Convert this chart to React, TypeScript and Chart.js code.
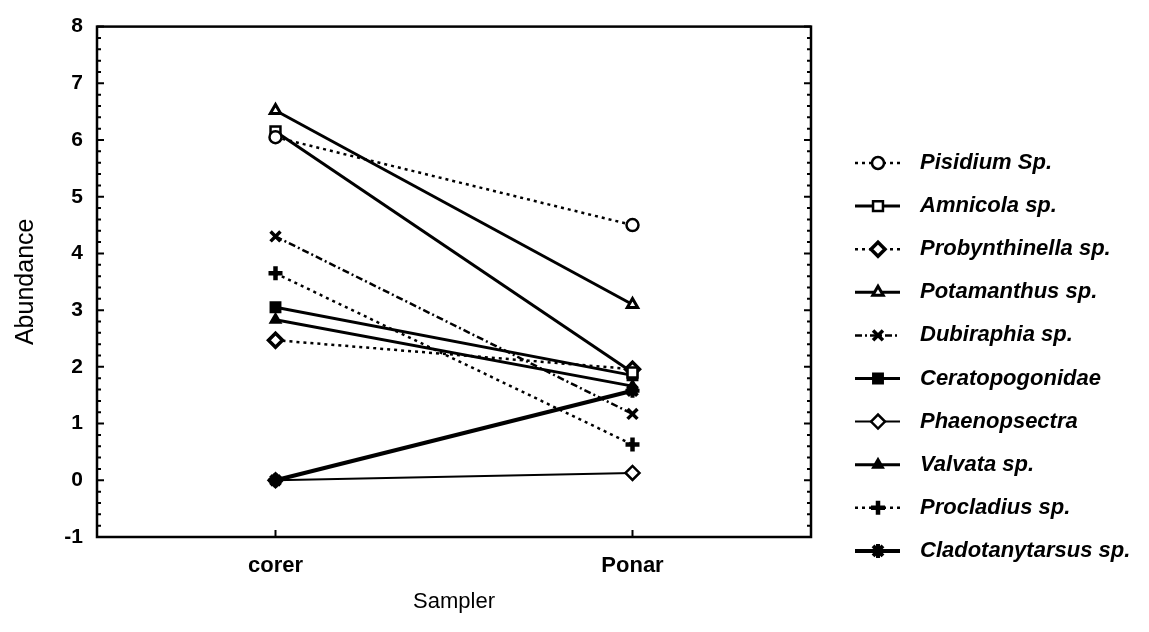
import React, { useEffect, useRef } from "react";
import { Chart, registerables } from "chart.js";
import { drawPoint } from "chart.js/helpers";

Chart.register(...registerables);

const categories = ["corer", "Ponar"];
const seriesNames = [
  "Pisidium Sp.",
  "Amnicola sp.",
  "Probynthinella sp.",
  "Potamanthus sp.",
  "Dubiraphia sp.",
  "Ceratopogonidae",
  "Phaenopsectra",
  "Valvata sp.",
  "Procladius sp.",
  "Cladotanytarsus sp.",
];
const pisidium = [6.05, 4.5];
const amnicola = [6.15, 1.9];
const probynthinella = [2.47, 1.96];
const potamanthus = [6.52, 3.1];
const dubiraphia = [4.3, 1.17];
const ceratopogonidae = [3.05, 1.85];
const phaenopsectra = [0, 0.13];
const valvata = [2.83, 1.66];
const procladius = [3.65, 0.63];
const cladotanytarsus = [0, 1.58];
const seriesValues = [
  pisidium,
  amnicola,
  probynthinella,
  potamanthus,
  dubiraphia,
  ceratopogonidae,
  phaenopsectra,
  valvata,
  procladius,
  cladotanytarsus,
];
const yTickLabels = ["-1", "0", "1", "2", "3", "4", "5", "6", "7", "8"];

const FONT = "'Liberation Sans', Arial, sans-serif";
const DOT = [3, 4];
const DASHDOT = [7, 3, 2, 3];

const styles = [
  { dash: DOT, lw: 2.5, ps: "circle", r: 6, bg: "#fff", bw: 2.5 },
  { dash: [], lw: 3, ps: "rect", r: 7, bg: "#fff", bw: 2.5 },
  { dash: DOT, lw: 2.5, ps: "rectRot", r: 7, bg: "#fff", bw: 3.5 },
  { dash: [], lw: 3, ps: "triangle", r: 6, bg: "#fff", bw: 3 },
  { dash: DASHDOT, lw: 2.5, ps: "crossRot", r: 7, bg: "#000", bw: 3.5 },
  { dash: [], lw: 3, ps: "rect", r: 7, bg: "#000", bw: 2 },
  { dash: [], lw: 2, ps: "rectRot", r: 7, bg: "#fff", bw: 2.5 },
  { dash: [], lw: 3, ps: "triangle", r: 6, bg: "#000", bw: 2 },
  { dash: DOT, lw: 2.5, ps: "cross", r: 7, bg: "#000", bw: 4.5 },
  { dash: [], lw: 4, ps: "star", r: 7, bg: "#000", bw: 4 },
];

const framePlugin = {
  id: "frame",
  afterDraw(chart: any) {
    const { ctx, chartArea } = chart;
    const { left, right, top, bottom } = chartArea;
    const ys = chart.scales.y;
    const xs = chart.scales.x;
    ctx.save();
    ctx.setLineDash([]);
    ctx.strokeStyle = "#000";
    ctx.lineWidth = 2.5;
    ctx.strokeRect(left, top, right - left, bottom - top);
    ctx.lineWidth = 2;
    for (let k = -5; k <= 40; k++) {
      const v = k / 5;
      const py = ys.getPixelForValue(v);
      const len = k % 5 === 0 ? 7 : 4;
      ctx.beginPath();
      ctx.moveTo(left, py);
      ctx.lineTo(left + len, py);
      ctx.moveTo(right, py);
      ctx.lineTo(right - len, py);
      ctx.stroke();
    }
    categories.forEach((_, i) => {
      const px = xs.getPixelForValue(i + 1);
      ctx.beginPath();
      ctx.moveTo(px, bottom);
      ctx.lineTo(px, bottom - 7);
      ctx.stroke();
    });
    // legend
    const lx0 = 855;
    const lx1 = 900;
    const mx = 878;
    const tx = 920;
    chart.data.datasets.forEach((ds: any, i: number) => {
      const st = styles[i];
      const y = 163 + i * 43.1;
      ctx.setLineDash(st.dash);
      ctx.lineWidth = st.lw;
      ctx.strokeStyle = "#000";
      ctx.beginPath();
      ctx.moveTo(lx0, y);
      ctx.lineTo(lx1, y);
      ctx.stroke();
      ctx.setLineDash([]);
      ctx.fillStyle = st.bg;
      ctx.lineWidth = st.bw;
      drawPoint(ctx, { pointStyle: st.ps, radius: st.r, rotation: 0, borderWidth: st.bw } as any, mx, y);
      ctx.fillStyle = "#000";
      ctx.font = `italic bold 22px ${FONT}`;
      ctx.textAlign = "left";
      ctx.textBaseline = "middle";
      ctx.fillText(ds.label, tx, y);
    });
    ctx.restore();
  },
};

export default function App() {
  const ref = useRef<HTMLCanvasElement | null>(null);
  useEffect(() => {
    document.body.style.margin = "0";
    const canvas = ref.current!;
    const datasets = seriesNames.map((name, i) => {
      const st = styles[i];
      return {
        label: name,
        data: seriesValues[i].map((v, j) => ({ x: j + 1, y: v })),
        order: i === seriesNames.length - 1 ? -1 : i,
        borderColor: "#000",
        borderWidth: st.lw,
        borderDash: st.dash,
        pointStyle: st.ps,
        pointRadius: st.r,
        pointBackgroundColor: st.bg,
        pointBorderColor: "#000",
        pointBorderWidth: st.bw,
        fill: false,
        tension: 0,
      };
    });
    const chart = new Chart(canvas, {
      type: "line",
      data: { datasets } as any,
      options: {
        animation: false,
        responsive: false,
        events: [],
        layout: { padding: { left: 0, top: 20, right: 338, bottom: 0 } },
        plugins: { legend: { display: false }, tooltip: { enabled: false } },
        scales: {
          x: {
            type: "linear",
            min: 0.5,
            max: 2.5,
            grid: { display: false, drawTicks: false },
            border: { display: false },
            afterBuildTicks: (s: any) => {
              s.ticks = categories.map((_, i) => ({ value: i + 1 }));
            },
            afterFit: (s: any) => {
              s.height = 95;
            },
            ticks: {
              padding: 16,
              color: "#000",
              font: { family: FONT, size: 22, weight: "bold" },
              callback: (v: any) => categories[Number(v) - 1] ?? "",
            },
            title: {
              display: true,
              text: "Sampler",
              color: "#000",
              font: { family: FONT, size: 22 },
              padding: { top: 0, bottom: 17 },
            },
          },
          y: {
            type: "linear",
            min: -1,
            max: 8,
            grid: { display: false, drawTicks: false },
            border: { display: false },
            afterBuildTicks: (s: any) => {
              s.ticks = yTickLabels.map((t) => ({ value: Number(t) }));
            },
            afterFit: (s: any) => {
              s.width = 97;
            },
            ticks: {
              padding: 14,
              color: "#000",
              font: { family: FONT, size: 21, weight: "bold" },
              callback: (v: any) => String(v),
            },
            title: {
              display: true,
              text: "Abundance",
              color: "#000",
              font: { family: FONT, size: 25 },
              padding: { top: 11, bottom: 0 },
            },
          },
        },
      } as any,
      plugins: [framePlugin],
    });
    return () => chart.destroy();
  }, []);
  return <canvas ref={ref} width={1149} height={632} style={{ display: "block", width: 1149, height: 632 }} />;
}
